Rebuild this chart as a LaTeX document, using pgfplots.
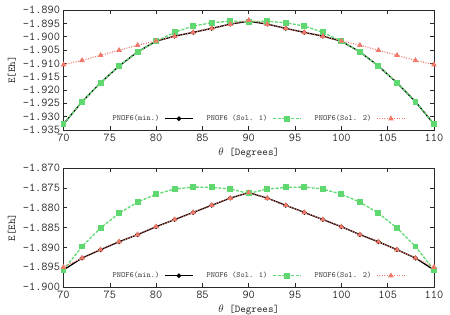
\documentclass[border=0pt]{standalone}
\usepackage{fontspec}
\usepackage{pgfplots}
\pgfplotsset{compat=1.18}
\definecolor{sgreen}{RGB}{96,216,112}
\definecolor{sred}{RGB}{240,120,104}
\definecolor{frame}{RGB}{40,40,40}

\pgfplotstableread{
t    min      s1       s2
70  -1.9328  -1.9328  -1.9105
72  -1.9244  -1.9244  -1.9089
74  -1.9173  -1.9173  -1.9070
76  -1.9110  -1.9110  -1.9051
78  -1.9057  -1.9057  -1.9032
80  -1.9017  -1.9017  -1.9016
82  -1.8998  -1.8984  -1.8998
84  -1.8984  -1.8960  -1.8984
86  -1.8969  -1.8948  -1.8969
88  -1.8953  -1.8942  -1.8953
90  -1.8942  -1.8944  -1.8938
92  -1.8953  -1.8942  -1.8953
94  -1.8969  -1.8948  -1.8969
96  -1.8984  -1.8960  -1.8984
98  -1.8998  -1.8984  -1.8998
100 -1.9017  -1.9017  -1.9016
102 -1.9057  -1.9057  -1.9032
104 -1.9110  -1.9110  -1.9051
106 -1.9173  -1.9173  -1.9070
108 -1.9244  -1.9244  -1.9089
110 -1.9328  -1.9328  -1.9105
}\toptable

\pgfplotstableread{
t    min      s1       s2
70  -1.8957  -1.8957  -1.8950
72  -1.8927  -1.8898  -1.8927
74  -1.8906  -1.8851  -1.8906
76  -1.8886  -1.8814  -1.8886
78  -1.8868  -1.8786  -1.8868
80  -1.8848  -1.8766  -1.8848
82  -1.8830  -1.8753  -1.8830
84  -1.8812  -1.8748  -1.8812
86  -1.8794  -1.8749  -1.8794
88  -1.8776  -1.8753  -1.8776
90  -1.8762  -1.8764  -1.8762
92  -1.8776  -1.8753  -1.8776
94  -1.8794  -1.8749  -1.8794
96  -1.8812  -1.8748  -1.8812
98  -1.8830  -1.8753  -1.8830
100 -1.8848  -1.8766  -1.8848
102 -1.8868  -1.8786  -1.8868
104 -1.8886  -1.8814  -1.8886
106 -1.8906  -1.8851  -1.8906
108 -1.8927  -1.8898  -1.8927
110 -1.8957  -1.8957  -1.8950
}\bottable

\pgfplotsset{
  legend image code/.code={\draw[mark repeat=2,mark phase=2,#1] plot coordinates {(0pt,0pt) (14pt,0pt) (28pt,0pt)};},
  panel/.style={
    scale only axis, width=370.5pt,
    xmin=70, xmax=110, xtick={70,75,...,110},
    tick align=inside, major tick length=4pt,
    axis line style={frame, line width=0.6pt},
    tick style={frame, line width=0.6pt},
    scaled y ticks=false,
    /pgf/number format/assume math mode=true,
    ticklabel style={font=\fontsize{12}{14}\selectfont\ttfamily, text=black!85},
    y tick label style={/pgf/number format/.cd, fixed, fixed zerofill, precision=3},
    label style={font=\fontsize{10.5}{12}\selectfont\ttfamily, text=black!85},
    xlabel={$\theta$ [Degrees]}, ylabel={E[Eh]},
    legend columns=3, legend plot pos=right,
    legend style={at={(0.525,0.03)}, anchor=south, draw=none, fill=none,
      font=\fontsize{8}{9}\selectfont\ttfamily, text=black!75,
      /tikz/every odd column/.append style={column sep=3pt},
      /tikz/every even column/.append style={column sep=11pt}},
  },
  pmin/.style={black, line width=1.3pt, mark=*, mark size=1.6pt},
  ps1/.style={sgreen, line width=1.3pt, dash pattern=on 3pt off 1.5pt, mark=square*, mark size=2.3pt, mark options={solid}},
  ps2/.style={sred, line width=1.1pt, dash pattern=on 1pt off 1.5pt, mark=triangle*, mark size=2.2pt, mark options={solid}},
}

\begin{document}
\begin{tikzpicture}
\useasboundingbox (0pt,0pt) rectangle (450pt,-315pt);
\begin{axis}[panel, at={(63.5pt,-130pt)}, anchor=south west, height=120pt,
  ymin=-1.935, ymax=-1.890, ytick={-1.935,-1.930,...,-1.889}]
\addplot[pmin] table[x=t,y=min] {\toptable};
\addlegendentry{PNOF6(min.)}
\addplot[ps1] table[x=t,y=s1] {\toptable};
\addlegendentry{PNOF6 (Sol. 1)}
\addplot[ps2] table[x=t,y=s2] {\toptable};
\addlegendentry{PNOF6(Sol. 2)}
\end{axis}
\begin{axis}[panel, at={(63.5pt,-287pt)}, anchor=south west, height=119pt,
  ymin=-1.900, ymax=-1.870, ytick={-1.900,-1.895,...,-1.869}]
\addplot[pmin] table[x=t,y=min] {\bottable};
\addlegendentry{PNOF6(min.)}
\addplot[ps1] table[x=t,y=s1] {\bottable};
\addlegendentry{PNOF6 (Sol. 1)}
\addplot[ps2] table[x=t,y=s2] {\bottable};
\addlegendentry{PNOF6(Sol. 2)}
\end{axis}
\end{tikzpicture}
\end{document}
